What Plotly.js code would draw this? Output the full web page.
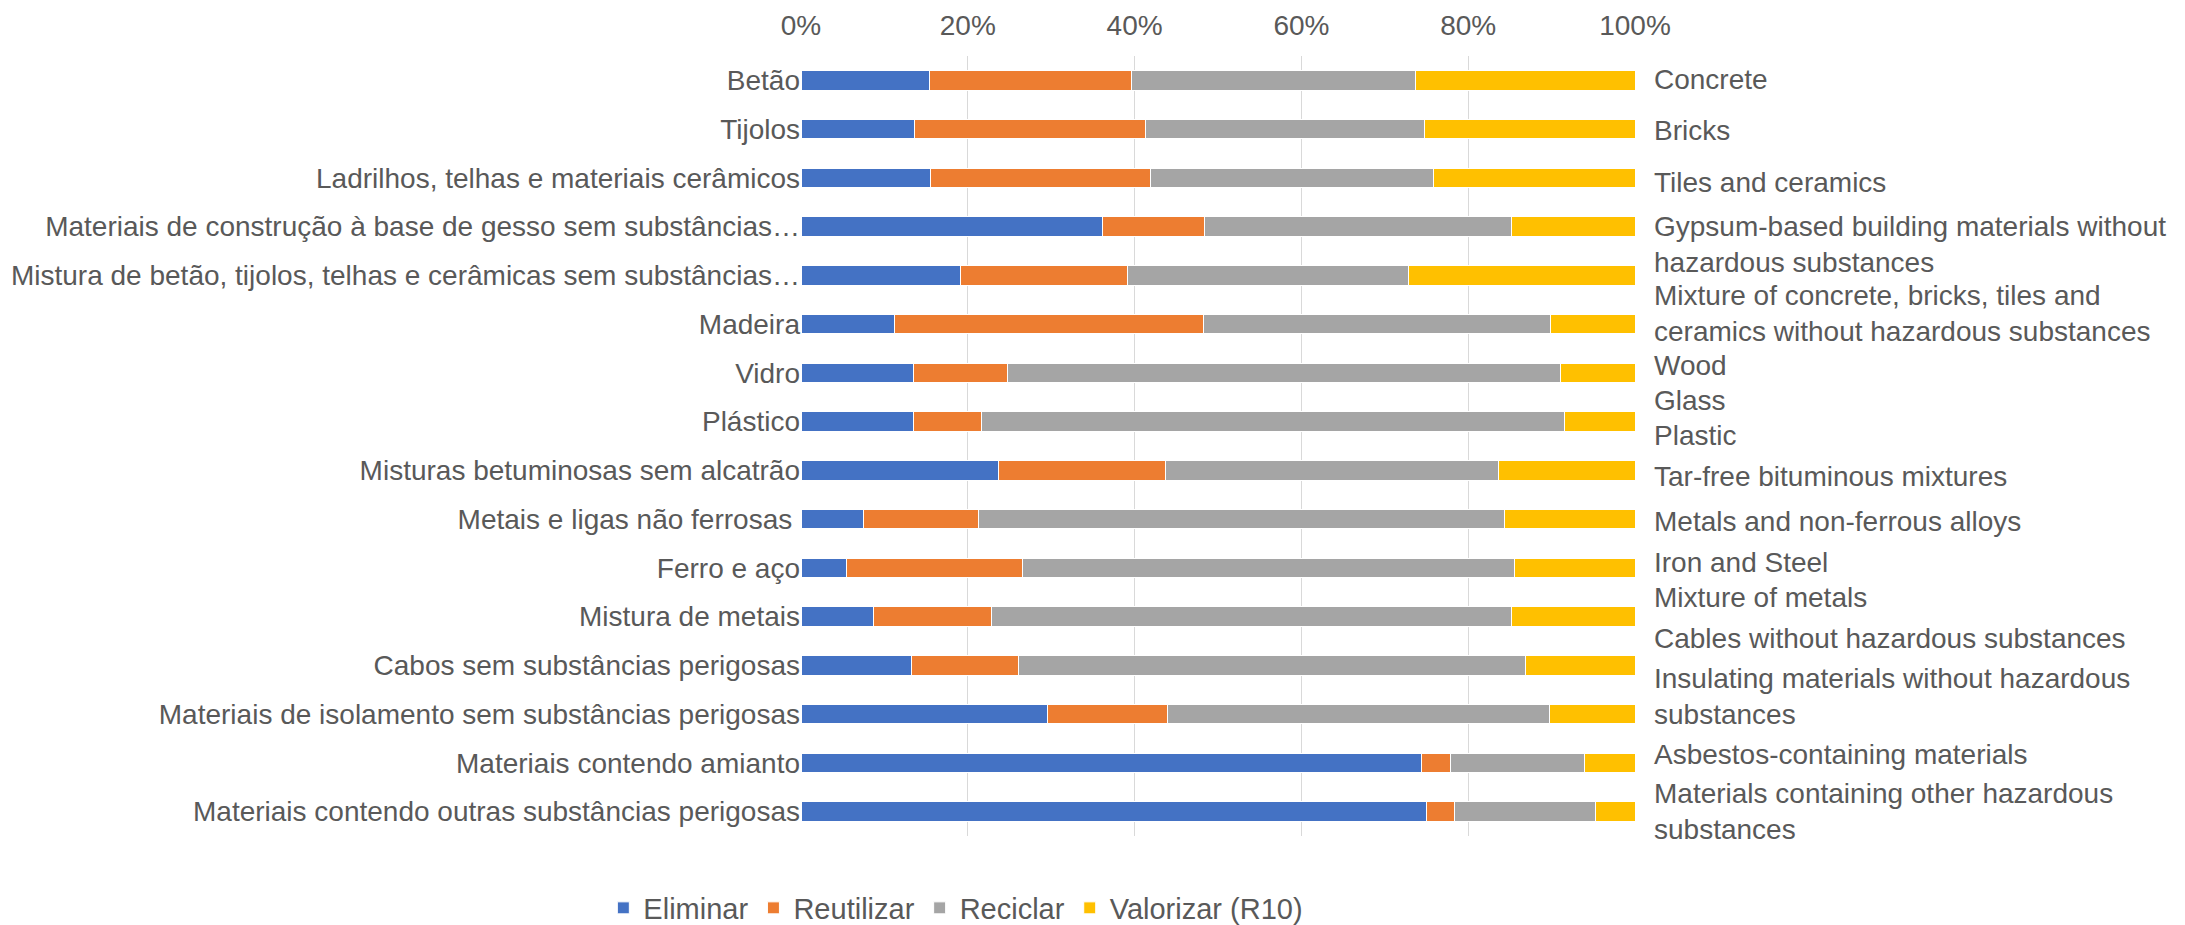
<!DOCTYPE html>
<html>
<head>
<meta charset="utf-8">
<script src="https://cdn.plot.ly/plotly-3.0.1.min.js"></script>
<style>html,body{margin:0;padding:0;background:#fff;}#chart{width:2185px;height:925px;}</style>
</head>
<body>
<div id="chart"></div>
<script>
const categories = [
  "Betão",
  "Tijolos",
  "Ladrilhos, telhas e materiais cerâmicos",
  "Materiais de construção à base de gesso sem substâncias…",
  "Mistura de betão, tijolos, telhas e cerâmicas sem substâncias…",
  "Madeira",
  "Vidro",
  "Plástico",
  "Misturas betuminosas sem alcatrão",
  "Metais e ligas não ferrosas\u00a0",
  "Ferro e aço",
  "Mistura de metais",
  "Cabos sem substâncias perigosas",
  "Materiais de isolamento sem substâncias perigosas",
  "Materiais contendo amianto",
  "Materiais contendo outras substâncias perigosas"
];
const englishLabels = [
  "Concrete",
  "Bricks",
  "Tiles and ceramics",
  "Gypsum-based building materials without<br>hazardous substances",
  "Mixture of concrete, bricks, tiles and<br>ceramics without hazardous substances",
  "Wood",
  "Glass",
  "Plastic",
  "Tar-free bituminous mixtures",
  "Metals and non-ferrous alloys",
  "Iron and Steel",
  "Mixture of metals",
  "Cables without hazardous substances",
  "Insulating materials without hazardous<br>substances",
  "Asbestos-containing materials",
  "Materials containing other hazardous<br>substances"
];
const seriesNames = ["Eliminar", "Reutilizar", "Reciclar", "Valorizar (R10)"];
const eliminar   = [15.4, 13.6, 15.5, 36.2, 19.1, 11.2, 13.5, 13.5, 23.7, 7.5, 5.4, 8.7, 13.2, 29.5, 74.4, 75.0];
const reutilizar = [24.2, 27.7, 26.4, 12.2, 20.0, 37.1, 11.3, 8.1, 20.0, 13.8, 21.2, 14.1, 12.9, 14.4, 3.5, 3.3];
const reciclar   = [34.1, 33.4, 33.9, 36.8, 33.7, 41.6, 66.3, 70.0, 39.9, 63.0, 59.0, 62.4, 60.8, 45.8, 16.0, 17.0];
const valorizar  = [26.3, 25.3, 24.2, 14.8, 27.2, 10.1, 8.9, 8.4, 16.4, 15.7, 14.4, 14.8, 13.1, 10.3, 6.1, 4.7];
const tickVals = [0, 20, 40, 60, 80, 100];
const tickText = ["0%", "20%", "40%", "60%", "80%", "100%"];

// layout (pixel positions of the English text block lines, from top of page)
const W = 2185, H = 925;
const plotTop = 56, plotBottom = 836, plotLeft = 801, plotRight = 1635;
const englishY = [79.3, 130.7, 182.7, 244.3, 313, 365, 400.7, 435, 476, 521.7, 562.7, 597.3, 638.3, 696, 754, 811.4];
const legendCenterY = 908;

const colors = ["#4472C4", "#ED7D31", "#A5A5A5", "#FFC000"];
const values = [eliminar, reutilizar, reciclar, valorizar];
const font = "Liberation Sans, Arial, sans-serif";
const txtColor = "#595959";
const fs = 28;
const ph = plotBottom - plotTop;

const traces = values.map((v, i) => ({
  type: "bar",
  orientation: "h",
  name: seriesNames[i],
  y: categories,
  x: v,
  marker: {color: colors[i], line: {color: "#ffffff", width: 1}},
  hoverinfo: "x+y+name"
}));

const annotations = englishLabels.map((t, i) => ({
  xref: "paper", yref: "paper",
  x: 1, y: (plotBottom - englishY[i]) / ph,
  xanchor: "left", yanchor: "middle", xshift: 17,
  align: "left",
  text: t,
  showarrow: false,
  font: {family: font, size: fs, color: txtColor}
}));

const layout = {
  width: W, height: H,
  margin: {l: plotLeft, r: W - plotRight, t: plotTop, b: H - plotBottom, pad: 0, autoexpand: false},
  paper_bgcolor: "#fff", plot_bgcolor: "#fff",
  barmode: "stack",
  barnorm: "percent",
  bargap: 0.6,
  font: {family: font, size: fs, color: txtColor},
  xaxis: {
    side: "top", range: [0, 100], tickmode: "array", tickvals: tickVals, ticktext: tickText,
    showgrid: true, gridcolor: "#D9D9D9", gridwidth: 1.3,
    zeroline: false, showline: false, ticks: "",
    ticklabelstandoff: 14,
    tickfont: {family: font, size: fs, color: txtColor},
    automargin: false,
    fixedrange: true
  },
  yaxis: {
    autorange: "reversed", type: "category",
    showgrid: false, zeroline: false, showline: false, ticks: "",
    ticklabelstandoff: 0,
    tickfont: {family: font, size: fs, color: txtColor},
    automargin: false
  },
  showlegend: true,
  legend: {
    orientation: "h", x: -0.237, xanchor: "left",
    y: (plotBottom - legendCenterY) / ph, yanchor: "middle",
    font: {family: font, size: 29, color: txtColor},
    traceorder: "normal", itemwidth: 30
  },
  annotations: annotations
};

Plotly.newPlot("chart", traces, layout, {displayModeBar: false, staticPlot: true});
</script>
</body>
</html>
